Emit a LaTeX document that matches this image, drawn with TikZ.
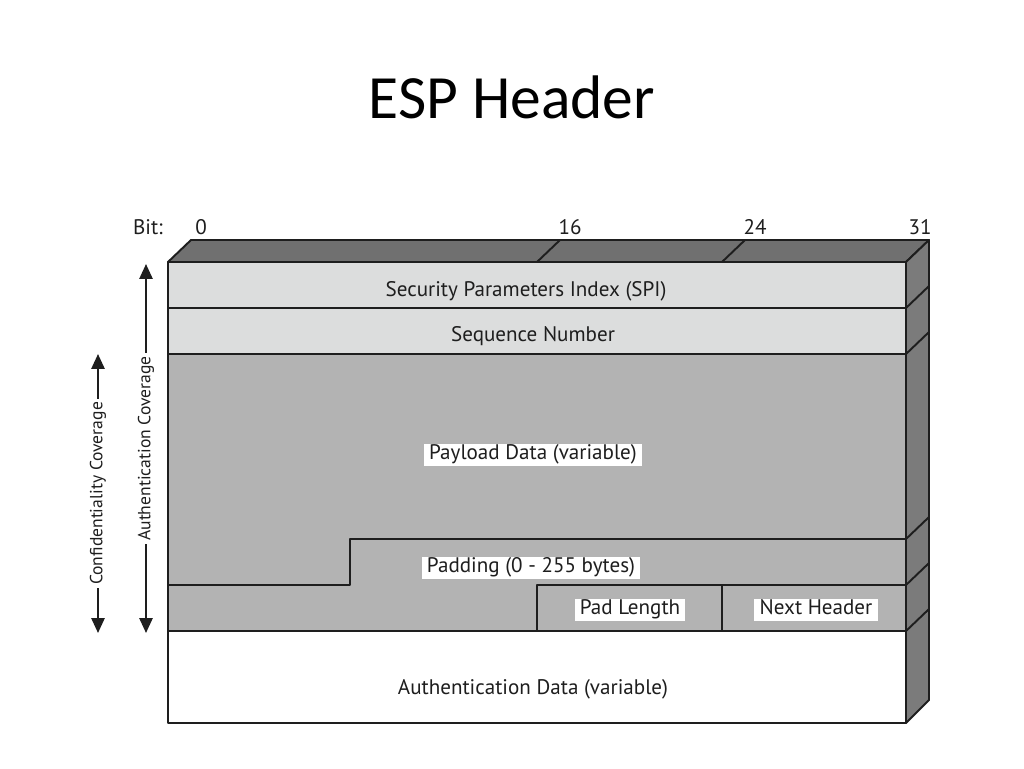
\documentclass[tikz,border=0pt]{standalone}
\usepackage{fontspec}
\setmainfont{PT Sans}
\newfontfamily\titlefont{Carlito}
\usetikzlibrary{arrows.meta}
\definecolor{topgray}{HTML}{707070}
\definecolor{sidegray}{HTML}{7B7B7B}
\definecolor{lightrow}{HTML}{DCDDDD}
\definecolor{midrow}{HTML}{B3B3B3}
\definecolor{edge}{HTML}{1E1E1E}

\begin{document}
\begin{tikzpicture}[x=0.02cm,y=-0.02cm,
  frame/.style={draw=edge,line width=1.1pt,line join=round},
  field/.style={font=\fontsize{12}{14}\selectfont,text=edge,text height=0.72em,text depth=0.22em},
  boxed/.style={field,fill=white,inner xsep=3pt,inner ysep=1.5pt},
  cover/.style={draw=edge,line width=1.2pt,{Triangle[length=8.5pt,width=7.5pt]}-{Triangle[length=8.5pt,width=7.5pt]}},
  coverlabel/.style={font=\fontsize{10}{12}\selectfont,fill=white,rotate=90,inner sep=2pt,text=edge}]
\useasboundingbox (0,0) rectangle (1024,768);
\node[font=\titlefont\fontsize{35}{40}\selectfont] (title) at (512,97) {ESP Header};

% bit positions
\node[field] (bit) at (148,230) {Bit:};
\node[field] (b0) at (201,230) {0};
\node[field] (b16) at (570,230) {16};
\node[field] (b24) at (755,230) {24};
\node[field] (b31) at (920,230) {31};

% top and side faces
\filldraw[frame,fill=topgray] (168,262)--(191,240)--(929,240)--(906,262)--cycle;
\filldraw[frame,fill=sidegray] (906,262)--(929,240)--(929,700)--(906,723)--cycle;
\foreach \y in {308,354,539,585,631} \draw[frame] (906,\y)--(929,\y-22);
\foreach \x in {537,722} \draw[frame] (\x,262)--(\x+23,240);

% front rows
\filldraw[frame,fill=lightrow] (168,262) rectangle (906,308);
\filldraw[frame,fill=lightrow] (168,308) rectangle (906,354);
\filldraw[frame,fill=midrow] (168,354) rectangle (906,631);
\draw[frame] (168,585)--(350,585)--(350,539)--(906,539);
\draw[frame] (537,631)--(537,585)--(906,585);
\draw[frame] (722,585)--(722,631);
\filldraw[frame,fill=white] (168,631) rectangle (906,723);

\node[field] (spi) at (526,292) {Security Parameters Index (SPI)};
\node[field] (seq) at (533,337) {Sequence Number};
\node[boxed] (payload) at (533,455) {Payload Data (variable)};
\node[boxed] (padding) at (531,568) {Padding (0 - 255 bytes)};
\node[boxed] (padlen) at (630,610) {Pad Length};
\node[boxed] (nexthdr) at (816,610) {Next Header};
\node[field] (authdata) at (533,690) {Authentication Data (variable)};

% coverage arrows
\coordinate (authtop) at (146,264);
\coordinate (authbot) at (146,633);
\coordinate (conftop) at (98,354);
\coordinate (confbot) at (98,633);
\draw[cover] (authbot) -- node[coverlabel] (authcov) {Authentication Coverage} (authtop);
\draw[cover] (confbot) -- node[coverlabel] (confcov) {Confidentiality Coverage} (conftop);
\end{tikzpicture}
\end{document}
